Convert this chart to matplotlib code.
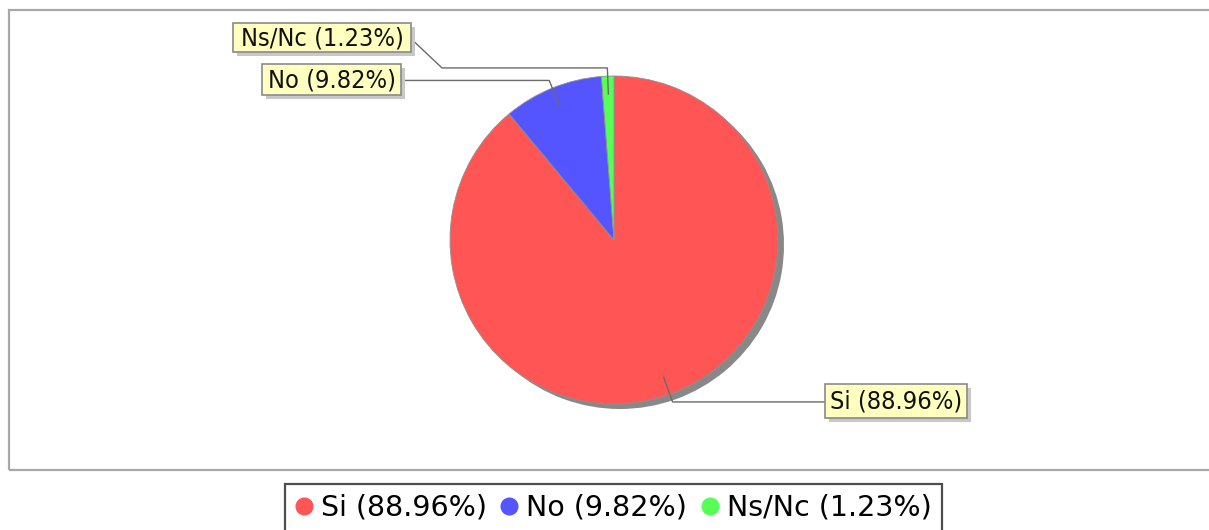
import numpy as np
import matplotlib
matplotlib.use("Agg")
import matplotlib.pyplot as plt
from matplotlib.patches import Rectangle
from matplotlib.lines import Line2D

plt.rcParams['font.family'] = ['DejaVu Sans']

# data
labels = ['Si', 'No', 'Ns/Nc']
values = [88.96, 9.82, 1.23]
colors = ['#FF5555', '#5555FF', '#55FF55']

W, H = 1209, 530


def Y(p):
    # pixel row (from top) -> data y (from bottom)
    return H - p


fig = plt.figure(figsize=(W / 100, H / 100), dpi=100)
ax = fig.add_axes([0, 0, 1, 1])
ax.set_xlim(0, W)
ax.set_ylim(0, H)
ax.set_aspect('equal')
ax.axis('off')

# plot area frame
ax.add_patch(Rectangle((9, Y(470)), 1220, 460, fill=False,
                       edgecolor='#A8A8A8', linewidth=1.6, clip_on=False))

cx, cy, R = 614, Y(240), 164

# shadow
ax.pie(values, colors=['#888888'] * 3, startangle=90, counterclock=False,
       center=(cx + 6, cy - 5), radius=R, wedgeprops=dict(linewidth=0))
ax.pie(values, colors=colors, startangle=90, counterclock=False,
       center=(cx, cy), radius=R,
       wedgeprops=dict(linewidth=0.6, edgecolor='#909090'))
ax.set_xlim(0, W)
ax.set_ylim(0, H)

# mid angles of slices
vals = np.array(values)
cum = np.cumsum(vals)
mid = np.radians(90 - 360 * (cum - vals / 2) / vals.sum())

# label boxes: (x0, y0_top, x1, y1_bottom) in pixels
boxes = [(825, 384, 967, 418), (262, 64, 401, 95), (233, 23, 411, 52)]
pct = [f'{l} ({v:.2f}%)' for l, v in zip(labels, values)]

for i, (x0, t, x1, b) in enumerate(boxes):
    ax.add_patch(Rectangle((x0 + 4, Y(b) - 4), x1 - x0, b - t,
                           facecolor='#C8C8C8', edgecolor='none', zorder=4))
    ax.add_patch(Rectangle((x0, Y(b)), x1 - x0, b - t,
                           facecolor='#FFFFC0', edgecolor='#8A8A8A',
                           linewidth=1.2, zorder=5))
    ax.text((x0 + x1) / 2, Y((t + b) / 2) - 1, pct[i], ha='center', va='center',
            fontsize=18.2, fontstretch='condensed', color='#111111', zorder=6)

    # leader line
    px_in = cx + 0.89 * R * np.cos(mid[i])
    py_in = cy + 0.89 * R * np.sin(mid[i])
    px_out = cx + 1.05 * R * np.cos(mid[i])
    py_out = cy + 1.05 * R * np.sin(mid[i])
    if i == 0:
        xs = [px_in, px_out, x0]
        ys = [py_in, py_out, py_out]
    elif i == 1:
        xs = [px_in, px_out, x1]
        ys = [py_in, py_out, py_out]
    else:
        xs = [px_in, px_out, x1 + 31, x1 + 3]
        ys = [py_in, py_out, py_out, Y((t + b) / 2 + 4)]
    ax.plot(xs, ys, color='#6A6A6A', linewidth=1.0, zorder=3)

# legend
handles = [Line2D([], [], linestyle='none', marker='o', markersize=12,
                  markerfacecolor=c, markeredgecolor=c) for c in colors]
leg = fig.legend(handles, pct, loc='upper center', ncol=3,
                 bbox_to_anchor=(613.5 / W, 1 - 484 / H), fontsize=20.5,
                 frameon=True, fancybox=False, edgecolor='#222222',
                 handlelength=0.6, handletextpad=0.3, columnspacing=0.5,
                 borderpad=0.35, borderaxespad=0)
leg.get_frame().set_linewidth(1.6)

fig.savefig('out.png', dpi=100)
